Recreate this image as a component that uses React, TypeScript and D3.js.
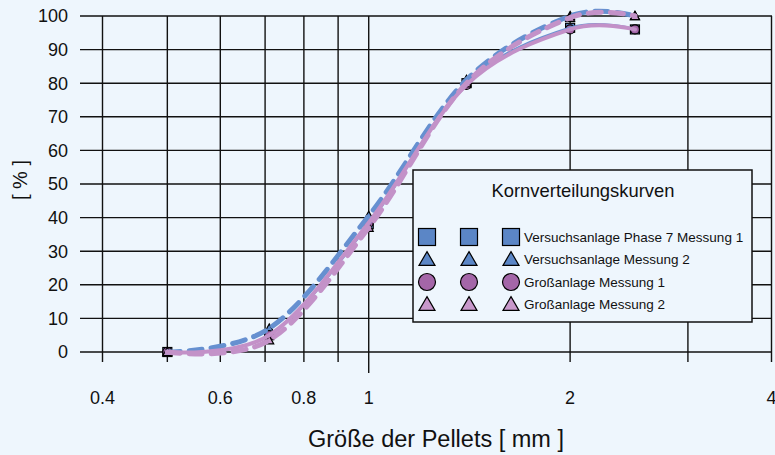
import React from "react";
import * as d3 from "d3";

const sizes = [0.5, 0.71, 1.0, 1.4, 2.0, 2.5];
const versuchM1 = [0, 5, 38, 80, 96.5, 96];
const versuchM2 = [0, 7, 40.5, 81, 100, 100];
const grossM1 = [0, 5, 38.5, 79.5, 96, 96];
const grossM2 = [0, 3.5, 37, 80, 99.5, 100];

const seriesNames = [
  "Versuchsanlage Phase 7 Messung 1",
  "Versuchsanlage Messung 2",
  "Großanlage Messung 1",
  "Großanlage Messung 2",
];

const yTicks = [0, 10, 20, 30, 40, 50, 60, 70, 80, 90, 100];
const xGrid = [0.4, 0.5, 0.6, 0.7, 0.8, 0.9, 1, 2, 3, 4];
const xLabels = [0.4, 0.6, 0.8, 1, 2, 4];

const BG = "#EEF6FD";
const FONT = "'Liberation Sans', Arial, sans-serif";

type Marker = "square" | "triangle" | "circle";

const series = [
  { name: seriesNames[0], values: versuchM1, color: "#6A92D2", fill: "#5B86C6", width: 2.5, dash: null as string | null, marker: "square" as Marker },
  { name: seriesNames[1], values: versuchM2, color: "#6690D0", fill: "#5B86C6", width: 5, dash: "13 9", marker: "triangle" as Marker },
  { name: seriesNames[2], values: grossM1, color: "#C391C8", fill: "#A466A8", width: 4, dash: null, marker: "circle" as Marker },
  { name: seriesNames[3], values: grossM2, color: "#C392C8", fill: "#C898CB", width: 5, dash: "13 9", marker: "triangle" as Marker },
];

function MarkerShape({ type, cx, cy, size, fill }: { type: Marker; cx: number; cy: number; size: number; fill: string }) {
  const s = size;
  if (type === "square") {
    return <rect x={cx - s / 2} y={cy - s / 2} width={s} height={s} fill={fill} stroke="#000" strokeWidth={1.2} />;
  }
  if (type === "circle") {
    return <circle cx={cx} cy={cy} r={s / 2} fill={fill} stroke="#000" strokeWidth={1.2} />;
  }
  const h = s * 0.8;
  return (
    <path
      d={`M${cx},${cy - h / 2 - 1} L${cx + s / 2},${cy + h / 2} L${cx - s / 2},${cy + h / 2} Z`}
      fill={fill}
      stroke="#000"
      strokeWidth={1.2}
      strokeLinejoin="miter"
    />
  );
}

export default function App() {
  const W = 775, H = 455;
  const x = d3.scaleLog().domain([0.4, 4]).range([102.5, 771.5]);
  const y = d3.scaleLinear().domain([0, 100]).range([352, 16]);
  const line = d3
    .line<[number, number]>()
    .x((d) => x(d[0]))
    .y((d) => y(d[1]))
    .curve(d3.curveCatmullRom.alpha(0));

  const legX = 413, legY = 170, legW = 339, legH = 152;
  const rowYs = [237, 259, 282, 304];
  const markerXs = [427, 469, 511];

  return (
    <svg width={W} height={H} style={{ position: "absolute", left: 0, top: 0, display: "block" }} fontFamily={FONT}>
      <rect x={0} y={0} width={W} height={H} fill={BG} />
      {/* horizontal gridlines */}
      {yTicks.map((t) => (
        <line key={"h" + t} x1={80} x2={772} y1={y(t)} y2={y(t)} stroke="#111" strokeWidth={1.4} />
      ))}
      {/* vertical gridlines */}
      {xGrid.map((t) => (
        <line key={"v" + t} x1={x(t)} x2={x(t)} y1={y(100)} y2={t === 1 ? 373 : 362} stroke="#111" strokeWidth={1.4} />
      ))}
      {/* y labels */}
      {yTicks.map((t) => (
        <text key={"yl" + t} x={68} y={y(t)} dy="0.35em" textAnchor="end" fontSize={18} fill="#111">
          {t}
        </text>
      ))}
      {/* x labels */}
      {xLabels.map((t) => (
        <text key={"xl" + t} x={x(t)} y={404} textAnchor="middle" fontSize={18} fill="#111">
          {String(t)}
        </text>
      ))}
      {/* axis titles */}
      <text x={436} y={447} textAnchor="middle" fontSize={23.5} fill="#111">
        Größe der Pellets [ mm ]
      </text>
      <text transform={`translate(27,180) rotate(-90)`} textAnchor="middle" fontSize={20} fill="#111">
        [ % ]
      </text>
      {/* markers (beneath the curves) */}
      {series.map((s, i) => (
        <g key={"m" + i}>
          {sizes.map((sz, j) => (
            <MarkerShape key={j} type={s.marker} cx={x(sz)} cy={y(s.values[j])} size={9} fill={s.fill} />
          ))}
        </g>
      ))}
      {/* curves */}
      {series.map((s, i) => {
        const pts: [number, number][] = sizes.map((sz, j) => [sz, s.values[j]]);
        return (
          <path
            key={"s" + i}
            d={line(pts) || ""}
            fill="none"
            stroke={s.color}
            strokeWidth={s.width}
            strokeDasharray={s.dash || undefined}
            strokeLinecap="round"
          />
        );
      })}
      {/* legend */}
      <rect x={legX} y={legY} width={legW} height={legH} fill={BG} stroke="#111" strokeWidth={1.5} />
      <text x={583} y={197} textAnchor="middle" fontSize={18.4} fill="#111">
        Kornverteilungskurven
      </text>
      {series.map((s, i) => (
        <g key={"lg" + i}>
          {markerXs.map((mx, k) => (
            <MarkerShape
              key={k}
              type={s.marker}
              cx={mx}
              cy={rowYs[i]}
              size={s.marker === "square" ? 17 : s.marker === "circle" ? 17 : 16}
              fill={s.fill}
            />
          ))}
          <text x={524} y={rowYs[i]} dy="0.35em" fontSize={13.5} fill="#111">
            {s.name}
          </text>
        </g>
      ))}
    </svg>
  );
}
